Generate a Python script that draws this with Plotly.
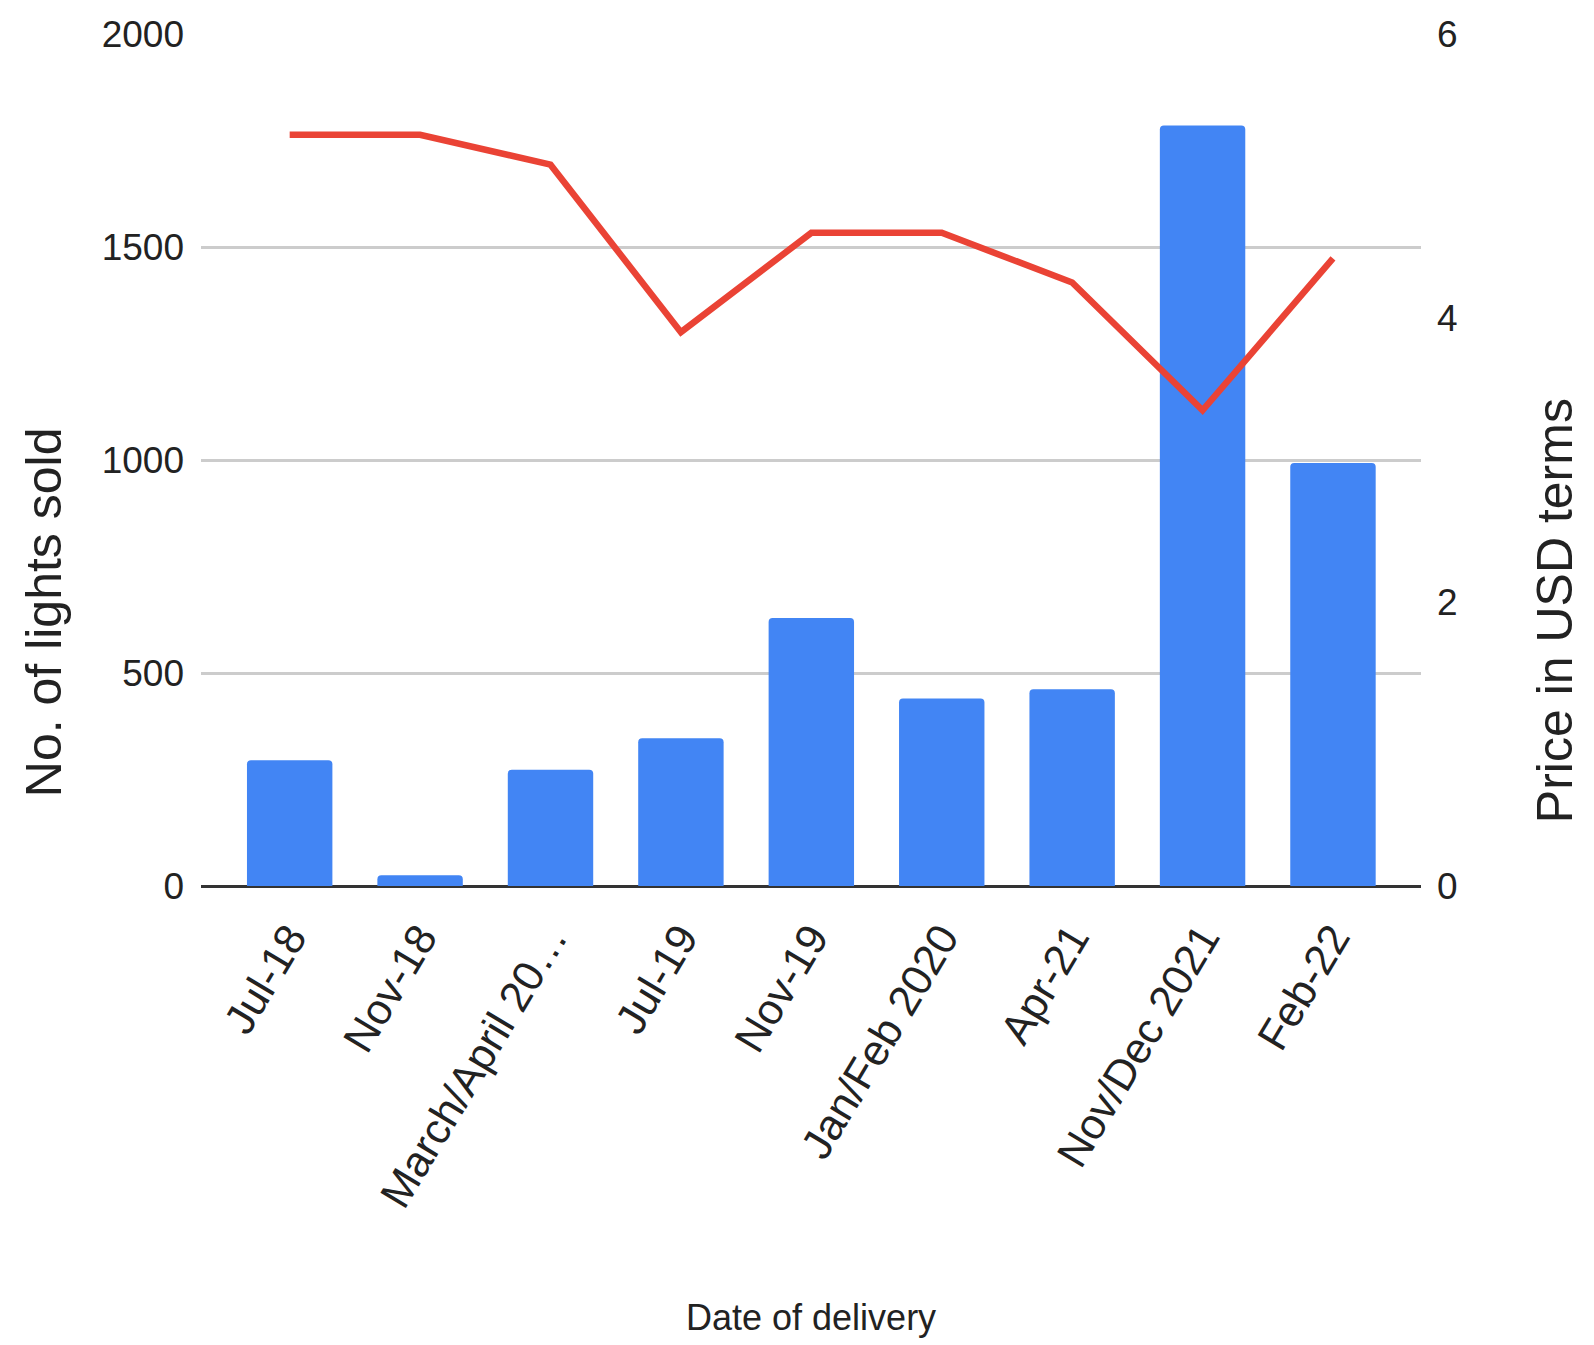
import plotly.graph_objects as go

categories = ["Jul-18", "Nov-18", "March/April 20…", "Jul-19", "Nov-19",
              "Jan/Feb 2020", "Apr-21", "Nov/Dec 2021", "Feb-22"]
lights_sold = [295, 25, 273, 347, 629, 440, 462, 1785, 993]
price_usd = [5.29, 5.29, 5.08, 3.90, 4.60, 4.60, 4.25, 3.35, 4.42]

left_ticks = [0, 500, 1000, 1500, 2000]
right_ticks = [0, 2, 4, 6]

W, H = 1594, 1345
L, R, T, B = 201, 173, 33.5, 459
plot_h = H - T - B
plot_w = W - L - R

fig = go.Figure()
fig.add_trace(go.Bar(
    x=list(range(len(categories))), y=lights_sold,
    marker=dict(color="#4285F4", cornerradius=4, line=dict(width=0)),
    width=0.655, name="No. of lights sold",
))
fig.add_trace(go.Scatter(
    x=list(range(len(categories))), y=price_usd, yaxis="y2",
    mode="lines", line=dict(color="#EA4335", width=6.5),
    name="Price in USD terms",
))

regular = "Liberation Sans, Arial, sans-serif"

fig.update_layout(
    width=W, height=H,
    margin=dict(l=L, r=R, t=T, b=B, pad=0),
    paper_bgcolor="white", plot_bgcolor="white",
    showlegend=False,
    xaxis=dict(
        range=[-0.68, 8.675],
        tickmode="array", tickvals=list(range(len(categories))), ticktext=categories,
        tickangle=-59, showgrid=False, zeroline=False, showline=False,
        ticks="", ticklabelstandoff=17,
        tickfont=dict(family=regular, size=43, color="#222"),
    ),
    yaxis=dict(
        range=[0, 2000], tickmode="array", tickvals=left_ticks,
        showgrid=True, gridcolor="#cccccc", gridwidth=3,
        zeroline=True, zerolinecolor="#333333", zerolinewidth=3,
        showline=False, ticks="", ticklabelstandoff=16,
        tickfont=dict(family=regular, size=37, color="#222"),
    ),
    yaxis2=dict(
        range=[0, 6], tickmode="array", tickvals=right_ticks,
        overlaying="y", side="right", showgrid=False, zeroline=False,
        showline=False, ticks="", ticklabelstandoff=15,
        tickfont=dict(family=regular, size=37, color="#222"),
    ),
    annotations=[
        dict(text="Date of delivery", xref="paper", yref="paper",
             x=0.5, y=-(1318 - 886) / plot_h, xanchor="center", yanchor="middle",
             showarrow=False, font=dict(family=regular, size=36, color="#222")),
        dict(text="No. of lights sold", xref="paper", yref="paper",
             x=(44 - L) / plot_w, y=(886 - 612) / plot_h, xanchor="center", yanchor="middle",
             textangle=-90, showarrow=False,
             font=dict(family=regular, size=50, color="#222")),
        dict(text="Price in USD terms", xref="paper", yref="paper",
             x=(1555 - L) / plot_w, y=(886 - 611) / plot_h, xanchor="center", yanchor="middle",
             textangle=-90, showarrow=False,
             font=dict(family=regular, size=50, color="#222")),
    ],
)

fig.write_html("out.html")
